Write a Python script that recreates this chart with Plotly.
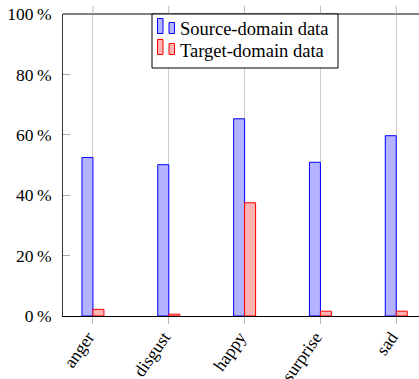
import plotly.graph_objects as go

categories = ["anger", "disgust", "happy", "surprise", "sad"]
source_values = [52.5, 50.1, 65.3, 50.9, 59.7]
target_values = [2.2, 0.6, 37.5, 1.6, 1.6]
y_tick_values = [0, 20, 40, 60, 80, 100]
y_tick_labels = ["0\u2009%", "20\u2009%", "40\u2009%", "60\u2009%", "80\u2009%", "100\u2009%"]
series_names = ["Source-domain data", "Target-domain data"]
series_fill = ["#b3b3ff", "#ffb3b3"]
series_line = ["#0000ff", "#ff0000"]

FONT = "Liberation Serif"
W, H = 419, 379
L, R, T, B = 63, 0, 14, 63
PW, PH = W - L - R, H - T - B


def px(xp):
    return (xp - L) / PW


def py(yp):
    return (H - B - yp) / PH


fig = go.Figure()
for name, vals, fc, lc in zip(series_names, [source_values, target_values], series_fill, series_line):
    fig.add_trace(go.Bar(
        x=categories, y=vals, name=name,
        marker=dict(color=fc, line=dict(color=lc, width=1)),
    ))

# top axis line and outward top ticks
shapes = [dict(type="line", xref="paper", yref="paper", x0=0, x1=1, y0=1, y1=1,
               line=dict(color="black", width=1))]
for c in categories:
    shapes.append(dict(type="line", xref="x", yref="paper", x0=c, x1=c, y0=1, y1=1 + 8 / PH,
                       line=dict(color="#bbbbbb", width=1)))

# pgfplots-style legend box (ybar legend images)
box = dict(x0=152, x1=338, y0=14, y1=68)
shapes.append(dict(type="rect", xref="paper", yref="paper",
                   x0=px(box["x0"]), x1=px(box["x1"]), y0=py(box["y1"]), y1=py(box["y0"]),
                   line=dict(color="black", width=1), fillcolor="white", layer="above"))
annotations = []
row_centers = [29.5, 50.5]
for i, (name, fc, lc) in enumerate(zip(series_names, series_fill, series_line)):
    base = row_centers[i] + 4
    for (bx0, bx1, top) in [(157.5, 163, base - 15), (169, 174.5, base - 11)]:
        shapes.append(dict(type="rect", xref="paper", yref="paper",
                           x0=px(bx0), x1=px(bx1), y0=py(base), y1=py(top),
                           line=dict(color=lc, width=1), fillcolor=fc, layer="above"))
    annotations.append(dict(xref="paper", yref="paper", x=px(178), y=py(row_centers[i]),
                            xanchor="left", yanchor="middle", text=name, showarrow=False,
                            font=dict(family=FONT, size=18.5, color="black")))

fig.update_layout(
    width=W, height=H,
    margin=dict(l=L, r=R, t=T, b=B),
    paper_bgcolor="white", plot_bgcolor="white",
    font=dict(family=FONT, size=17, color="black"),
    barmode="group", bargap=0.71, bargroupgap=0,
    showlegend=False,
    shapes=shapes, annotations=annotations,
    xaxis=dict(
        type="category", range=[-0.395, 4.30], automargin=False,
        showgrid=True, gridcolor="#cccccc", gridwidth=1,
        showline=True, linecolor="black", linewidth=1,
        ticks="outside", ticklen=7, tickcolor="#bbbbbb",
        tickangle=-55, tickfont=dict(family=FONT, size=17.5),
        ticklabeloverflow="allow", ticklabelshift=-5, ticklabelstandoff=-4,
        zeroline=False,
    ),
    yaxis=dict(
        range=[0, 100], tickvals=y_tick_values, ticktext=y_tick_labels,
        automargin=False, ticklabeloverflow="allow",
        showgrid=False, zeroline=False,
        showline=True, linecolor="#333333", linewidth=1,
        ticks="inside", ticklen=7, tickcolor="#aaaaaa",
        tickfont=dict(family=FONT, size=17.5), ticklabelstandoff=7,
    ),
)

# the page body has a default 8px margin; remove it so the figure fills the window
fig.write_html("out.html", config={"displayModeBar": False},
               post_script="document.body.style.margin='0px';")
